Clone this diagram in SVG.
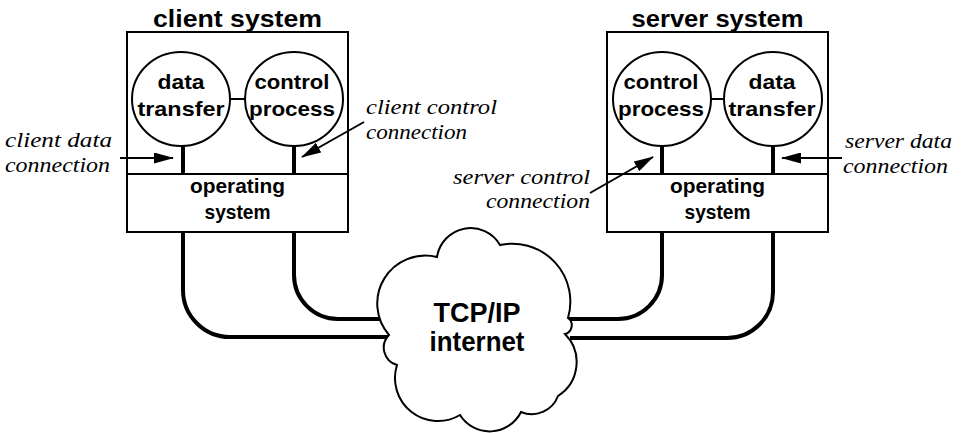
<svg xmlns="http://www.w3.org/2000/svg" width="962" height="433" viewBox="0 0 962 433">
<defs>
<style>
.box{fill:#fff;stroke:#000;stroke-width:2}
.circ{fill:#fff;stroke:#000;stroke-width:2}
.thin{stroke:#000;stroke-width:2;fill:none}
.stem{stroke:#000;stroke-width:4;fill:none}
.wire{stroke:#000;stroke-width:4;fill:none;stroke-linejoin:round}
.arrow{stroke:#000;stroke-width:2;fill:none;marker-end:url(#ah)}
.title{font-family:"Liberation Sans",Arial,sans-serif;font-weight:bold;font-size:23px;text-anchor:middle;fill:#000}
.lbl{font-family:"Liberation Sans",Arial,sans-serif;font-weight:bold;font-size:21px;text-anchor:middle;fill:#000}
.it{font-family:"Liberation Serif","Times New Roman",serif;font-style:italic;font-size:22px;fill:#000}
.big{font-family:"Liberation Sans",Arial,sans-serif;font-weight:bold;font-size:27px;text-anchor:middle;fill:#000}
</style>
<marker id="ah" viewBox="0 0 20 11" refX="19" refY="5.5" markerWidth="20" markerHeight="11" markerUnits="userSpaceOnUse" orient="auto">
<path d="M0,0 L20,5.5 L0,11 Z" fill="#000"/>
</marker>
</defs>
<rect width="962" height="433" fill="#fff"/>

<g id="client-system">
<text class="title" x="237.5" y="27" textLength="169" lengthAdjust="spacingAndGlyphs">client system</text>
<rect class="box" x="127" y="32" width="221" height="200"/>
<line class="thin" x1="127" y1="174" x2="348" y2="174"/>
</g>
<g id="client-data-transfer">
<ellipse class="circ" cx="181" cy="99" rx="49" ry="47"/>
<text class="lbl" x="181" y="89" textLength="47" lengthAdjust="spacingAndGlyphs">data</text>
<text class="lbl" x="181" y="116" textLength="87" lengthAdjust="spacingAndGlyphs">transfer</text>
<line class="stem" x1="183" y1="146" x2="183" y2="174"/>
</g>
<g id="client-control-process">
<ellipse class="circ" cx="294" cy="99" rx="49" ry="47"/>
<text class="lbl" x="292" y="89" textLength="75" lengthAdjust="spacingAndGlyphs">control</text>
<text class="lbl" x="292" y="116" textLength="86" lengthAdjust="spacingAndGlyphs">process</text>
<line class="stem" x1="294" y1="146" x2="294" y2="174"/>
</g>
<line class="thin" x1="230" y1="99" x2="245" y2="99"/>
<g id="client-os">
<text class="lbl" x="237.5" y="193" textLength="95" lengthAdjust="spacingAndGlyphs">operating</text>
<text class="lbl" x="237.5" y="219" textLength="66" lengthAdjust="spacingAndGlyphs">system</text>
</g>

<g id="server-system">
<text class="title" x="717.5" y="27" textLength="172" lengthAdjust="spacingAndGlyphs">server system</text>
<rect class="box" x="607" y="32" width="221" height="200"/>
<line class="thin" x1="607" y1="174" x2="828" y2="174"/>
</g>
<g id="server-control-process">
<ellipse class="circ" cx="662" cy="99" rx="49" ry="47"/>
<text class="lbl" x="661" y="89" textLength="75" lengthAdjust="spacingAndGlyphs">control</text>
<text class="lbl" x="661" y="116" textLength="86" lengthAdjust="spacingAndGlyphs">process</text>
<line class="stem" x1="662" y1="146" x2="662" y2="174"/>
</g>
<g id="server-data-transfer">
<ellipse class="circ" cx="773" cy="99" rx="49" ry="47"/>
<text class="lbl" x="772" y="89" textLength="47" lengthAdjust="spacingAndGlyphs">data</text>
<text class="lbl" x="772" y="116" textLength="87" lengthAdjust="spacingAndGlyphs">transfer</text>
<line class="stem" x1="773" y1="146" x2="773" y2="174"/>
</g>
<line class="thin" x1="711" y1="99" x2="724" y2="99"/>
<g id="server-os">
<text class="lbl" x="717.5" y="193" textLength="95" lengthAdjust="spacingAndGlyphs">operating</text>
<text class="lbl" x="717.5" y="219" textLength="66" lengthAdjust="spacingAndGlyphs">system</text>
</g>

<g id="connectors">
<path class="wire" d="M183,232 V290 A47,47 0 0 0 230,337 H392"/>
<path class="wire" d="M294,232 V275 A44,44 0 0 0 338,319 H386"/>
<path class="wire" d="M662,232 V275 A44,44 0 0 1 618,319 H566"/>
<path class="wire" d="M773,232 V292 A46,46 0 0 1 727,338 H570"/>
<path class="arrow" d="M120,158 H173"/>
<path class="arrow" d="M364,122 L302,157"/>
<path class="arrow" d="M590,193 L653,157"/>
<path class="arrow" d="M842,158 H782"/>
</g>

<g id="internet">
<path class="circ" d="M437,257 A34,34 0 0 1 500,245 A58,58 0 0 1 568,318 A9,9 0 0 1 565,334 A40,40 0 0 1 558,396 A28,28 0 0 1 521,412 A35,35 0 0 1 460,415 A43,43 0 0 1 397,365 A18,18 0 0 1 389,335 A48,48 0 0 1 437,257 Z"/>
<text class="big" x="477" y="322" textLength="87" lengthAdjust="spacingAndGlyphs">TCP/IP</text>
<text class="big" x="477" y="351" textLength="95" lengthAdjust="spacingAndGlyphs">internet</text>
</g>

<g id="labels">
<text class="it" x="5" y="147" textLength="107" lengthAdjust="spacingAndGlyphs">client data</text>
<text class="it" x="5" y="172" textLength="105" lengthAdjust="spacingAndGlyphs">connection</text>
<text class="it" x="366" y="114" textLength="131" lengthAdjust="spacingAndGlyphs">client control</text>
<text class="it" x="366" y="139" textLength="101" lengthAdjust="spacingAndGlyphs">connection</text>
<text class="it" x="453" y="184" textLength="137" lengthAdjust="spacingAndGlyphs">server control</text>
<text class="it" x="486" y="208" textLength="104" lengthAdjust="spacingAndGlyphs">connection</text>
<text class="it" x="845" y="148" textLength="107" lengthAdjust="spacingAndGlyphs">server data</text>
<text class="it" x="843" y="173" textLength="105" lengthAdjust="spacingAndGlyphs">connection</text>
</g>
</svg>
